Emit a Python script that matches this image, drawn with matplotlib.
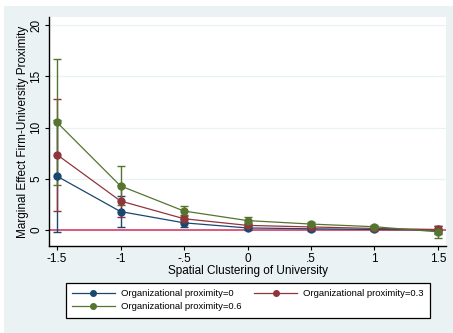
# Marginal effect plot, Stata s2color look #

import matplotlib.pyplot as plt
from matplotlib.patches import Rectangle
import numpy as np

plt.rcParams['font.family'] = ['Liberation Sans', 'DejaVu Sans']

# data
clustering = [-1.5, -1, -0.5, 0, 0.5, 1, 1.5]
tick_labels = ['-1.5', '-1', '-.5', '0', '.5', '1', '1.5']

eff_0 = [5.25, 1.8, 0.7, 0.2, 0.12, 0.05, 0.0]
lo_0 = [-0.2, 0.33, 0.3, 0.0, -0.05, -0.1, -0.4]
hi_0 = [10.7, 3.27, 1.08, 0.4, 0.3, 0.2, 0.4]

eff_3 = [7.35, 2.83, 1.1, 0.45, 0.3, 0.15, 0.05]
lo_3 = [1.9, 1.3, 0.75, 0.2, 0.1, 0.0, -0.3]
hi_3 = [12.8, 4.36, 1.5, 0.7, 0.5, 0.3, 0.4]

eff_6 = [10.5, 4.3, 1.85, 0.92, 0.58, 0.32, -0.18]
lo_6 = [4.35, 2.4, 1.4, 0.6, 0.35, 0.15, -0.8]
hi_6 = [16.7, 6.2, 2.37, 1.25, 0.8, 0.5, 0.42]

labels = ['Organizational proximity=0', 'Organizational proximity=0.3',
          'Organizational proximity=0.6']
colors = ['#1a476f', '#90353b', '#55752f']

W, H = 453, 333
fig = plt.figure(figsize=(W / 100, H / 100), dpi=100)
fig.patch.set_facecolor('#eaf2f3')
# thin white margin at left and top of the image
fig.patches.append(Rectangle((0, 0), 4 / W, 1, transform=fig.transFigure,
                             facecolor='white', edgecolor='none', zorder=-1))
fig.patches.append(Rectangle((0, 1 - 6 / H), 1, 6 / H, transform=fig.transFigure,
                             facecolor='white', edgecolor='none', zorder=-1))

ax = fig.add_axes([49 / W, 1 - 246 / H, (446 - 49) / W, (246 - 17) / H])
ax.set_facecolor('white')

series = [(eff_0, lo_0, hi_0), (eff_3, lo_3, hi_3), (eff_6, lo_6, hi_6)]

# confidence intervals first
for (eff, lo, hi), c in zip(series, colors):
    eff = np.array(eff)
    err = [eff - np.array(lo), np.array(hi) - eff]
    ax.errorbar(clustering, eff, yerr=err, fmt='none', ecolor=c,
                elinewidth=1.0, capsize=3, capthick=1.0, zorder=3)

handles = []
for (eff, lo, hi), c, lab in zip(series, colors, labels):
    h, = ax.plot(clustering, eff, color=c, lw=0.9, marker='o', ms=5,
                 mec=c, mfc=c, label=lab, zorder=4)
    handles.append(h)

ax.axhline(0, color='#d6406b', lw=1.2, zorder=2)

ax.set_xlim(-1.563, 1.563)
ax.set_ylim(-1.56, 20.78)
ax.set_xticks(clustering)
ax.set_xticklabels(tick_labels)
ax.set_yticks([0, 5, 10, 15, 20])
ax.set_yticklabels(['0', '5', '10', '15', '20'], rotation=90, va='center')
ax.yaxis.grid(True, color='#eaf2f3', lw=0.9, zorder=0)
ax.set_axisbelow(True)

for s in ['top', 'right']:
    ax.spines[s].set_visible(False)
for s in ['left', 'bottom']:
    ax.spines[s].set_linewidth(1.0)
ax.tick_params(length=3, width=0.8, labelsize=8.5, pad=2)

ax.set_xlabel('Spatial Clustering of University', fontsize=8.5, labelpad=0)
ax.set_ylabel('Marginal Effect Firm-University Proximity', fontsize=8.5, labelpad=1)

# matplotlib fills legend columns first, so reorder to get Stata's row order
leg_handles = [handles[0], handles[2], handles[1]]
leg = fig.legend(handles=leg_handles, loc='upper left', ncol=2, mode='expand',
                 bbox_to_anchor=(66 / W, 1 - 321 / H, 364 / W, 38 / H),
                 borderaxespad=0, fontsize=6.8, handlelength=4.5,
                 handletextpad=0.7, labelspacing=0.45, borderpad=0.65,
                 markerscale=0.8, fancybox=False, framealpha=1)
leg.get_frame().set_edgecolor('black')
leg.get_frame().set_linewidth(0.9)

fig.savefig('out.png', dpi=100, facecolor=fig.get_facecolor())
